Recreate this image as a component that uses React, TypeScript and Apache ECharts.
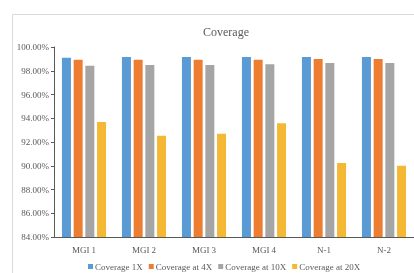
import React, { useEffect, useRef } from "react";
import * as echarts from "echarts";

const categories = ["MGI 1", "MGI 2", "MGI 3", "MGI 4", "N-1", "N-2"];
const seriesNames = ["Coverage 1X", "Coverage at 4X", "Coverage at 10X", "Coverage at 20X"];
const cov1x = [99.1, 99.16, 99.16, 99.16, 99.16, 99.16];
const cov4x = [98.93, 98.93, 98.93, 98.93, 98.99, 98.99];
const cov10x = [98.43, 98.48, 98.48, 98.54, 98.65, 98.65];
const cov20x = [93.68, 92.53, 92.7, 93.57, 90.23, 90.0];
const colors = ["#5B9BD5", "#ED7D31", "#A5A5A5", "#F5B835"];

export default function App() {
  const ref = useRef<HTMLDivElement>(null);
  useEffect(() => {
    if (!ref.current) return;
    const chart = echarts.init(ref.current, null, { renderer: "svg" });
    const data = [cov1x, cov4x, cov10x, cov20x];
    chart.setOption({
      animation: false,
      textStyle: { fontFamily: "Liberation Serif" },
      title: {
        text: "Coverage",
        left: 221,
        textAlign: "center",
        top: 21,
        textStyle: { fontFamily: "Liberation Serif", fontSize: 12, fontWeight: "normal", color: "#595959" },
      },
      graphic: [
        {
          type: "rect",
          shape: { x: 12.5, y: 14.5, width: 420, height: 280 },
          style: { fill: "none", stroke: "#D9D9D9", lineWidth: 1 },
          silent: true,
        },
      ],
      legend: {
        bottom: 2,
        left: 88,
        width: 330,
        padding: 0,
        itemWidth: 5,
        itemHeight: 5,
        itemGap: 6,
        icon: "rect",
        textStyle: { fontFamily: "Liberation Serif", fontSize: 9, color: "#595959", padding: [0, 0, 0, -3] },
        data: seriesNames,
      },
      grid: { left: 54, right: -6, top: 47, bottom: 36, containLabel: false },
      xAxis: {
        type: "category",
        data: categories,
        axisLine: { lineStyle: { color: "#595959", width: 1 } },
        axisTick: { show: false },
        axisLabel: { fontFamily: "Liberation Serif", fontSize: 9, color: "#595959", margin: 8 },
      },
      yAxis: {
        type: "value",
        min: 84,
        max: 100,
        interval: 2,
        splitLine: { show: false },
        axisLine: { show: true, lineStyle: { color: "#595959", width: 1 } },
        axisTick: { show: true, length: 3, lineStyle: { color: "#595959" } },
        axisLabel: {
          fontFamily: "Liberation Serif",
          fontSize: 9,
          color: "#595959",
          margin: 5,
          formatter: (v: number) => v.toFixed(2) + "%",
        },
      },
      series: seriesNames.map((name, i) => ({
        name,
        type: "bar",
        data: data[i],
        barWidth: 9,
        barGap: "30%",
        itemStyle: { color: colors[i] },
      })),
    });
    return () => chart.dispose();
  }, []);
  return <div ref={ref} style={{ position: "fixed", left: 0, top: 0, width: 414, height: 273 }} />;
}
